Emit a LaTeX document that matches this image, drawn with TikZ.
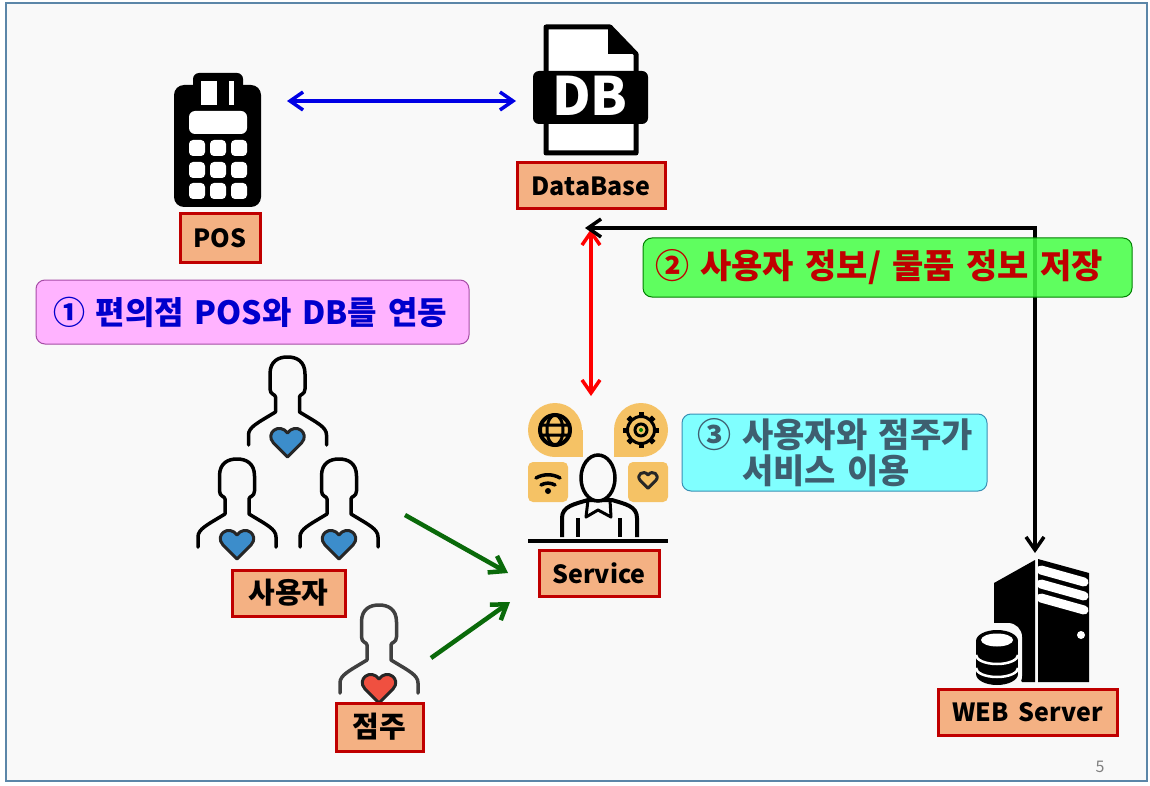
\documentclass[tikz,border=0pt]{standalone}
\usepackage{fontspec}
\setmainfont[WordSpace=1.7]{Noto Sans CJK KR}
\usetikzlibrary{arrows.meta}
\definecolor{slidebg}{HTML}{F9F9F9}
\definecolor{frameblue}{HTML}{5B86A8}
\definecolor{tagred}{HTML}{C00000}
\definecolor{tagfill}{HTML}{F4B183}
\definecolor{blobfill}{HTML}{F5C265}
\definecolor{heartblue}{HTML}{3C8DCB}
\definecolor{heartred}{HTML}{F05040}
\definecolor{darkgreen}{HTML}{0A6A0A}
\definecolor{slatetext}{HTML}{3E5F70}
\definecolor{pinkfill}{HTML}{FFB3FF}
\definecolor{greenfill}{HTML}{45FF45}
\definecolor{cyanfill}{HTML}{80FFFF}
\tikzset{
	tag/.style={draw=tagred, fill=tagfill, line width=3pt, inner sep=0pt, font=\fontsize{25}{25}\selectfont\bfseries},
	hangultag/.style={tag, font=\fontsize{29}{29}\selectfont\bfseries},
	callout/.style={rounded corners=9pt, line width=1pt, inner ysep=0pt, align=left, font=\fontsize{32}{37}\selectfont\bfseries},
	widecallout/.style={callout, font=\fontsize{34}{36}\selectfont\bfseries},
	flow/.style={line width=4.5pt, -{Straight Barb[length=14pt,width=19pt,line width=4.5pt]}},
	both/.style={line width=3.5pt, {Straight Barb[length=13pt,width=18pt,line width=3.5pt]}-{Straight Barb[length=13pt,width=18pt,line width=3.5pt]}},
	person/.pic={
		\draw[line width=3.5pt, line cap=round, line join=round, draw=#1] (-39, 88) -- (-39, 78) .. controls (-39, 70) and (-30, 66) .. (-12, 55) -- (-12, 40) .. controls (-12, 37) and (-17.5, 38) .. (-17.5, 32) -- (-17.5, 17) .. controls (-17.5, 4) and (-9, 0) .. (0, 0) .. controls (9, 0) and (17.5, 4) .. (17.5, 17) -- (17.5, 32) .. controls (17.5, 38) and (12, 37) .. (12, 40) -- (12, 55) .. controls (30, 66) and (39, 70) .. (39, 78) -- (39, 88);
	},
	heart/.pic={
		\draw[line width=3pt, line join=round, draw=black!85, pic actions] (0, 15) -- (-14, 1) .. controls (-23, -9) and (-8, -20) .. (0, -9) .. controls (8, -20) and (23, -9) .. (14, 1) -- cycle;
	}
}
\begin{document}
\begin{tikzpicture}[x=1pt, y=-1pt]
	\useasboundingbox (0, 0) rectangle (1150, 786);
	\fill[white] (0, 0) rectangle (1150, 786);
	\draw[frameblue, fill=slidebg, line width=1.5pt] (6, 3) rectangle (1147, 781);
	% POS terminal
	\fill[rounded corners=6pt] (193, 73) rectangle (243, 100);
	\fill[rounded corners=10pt] (174, 85) rectangle (261, 207);
	\fill[white] (201, 81) rectangle (217, 105);
	\fill[white] (229, 81) rectangle (234, 105);
	\fill[white, rounded corners=6pt] (189, 111) rectangle (247, 134);
	\foreach \kx in {189, 210, 231}
		\foreach \ky in {140, 162, 183}
			\fill[white, rounded corners=4pt] (\kx, \ky) rectangle +(16, 16);
	% DB file
	\draw[line width=5pt, fill=white, line join=round] (546, 27) -- (610, 27) -- (636, 54) -- (636, 153) -- (546, 153) -- cycle;
	\fill (608, 25) -- (638, 54) -- (608, 54) -- cycle;
	\fill[rounded corners=6pt] (533, 71) rectangle (648, 124);
	\node[white, font=\fontsize{53}{53}\selectfont\bfseries] (dbtext) at (590, 96) {DB};
	% people
	\path (287.5, 357) pic {person=black} (237, 459) pic {person=black} (339, 459) pic {person=black} (379, 605) pic {person=black!75};
	\path (287.5, 442) pic[fill=heartblue] {heart} (237, 544) pic[fill=heartblue] {heart} (339, 544) pic[fill=heartblue] {heart} (379, 688) pic[fill=heartred] {heart};
	% service desk
	\fill[blobfill] (555, 430) circle (27);
	\fill[blobfill] (555, 430) rectangle (583, 457);
	\fill[blobfill] (641, 430) circle (27);
	\fill[blobfill] (614, 430) rectangle (641, 457);
	\fill[blobfill, rounded corners=5pt] (528, 462) rectangle (568, 502);
	\fill[blobfill, rounded corners=5pt] (628, 462) rectangle (668, 502);
	\draw[line width=4pt] (555, 430) circle (15);
	\draw[line width=3pt] (539, 425) -- (571, 425) (539, 435) -- (571, 435) (555, 430) ellipse (8 and 15);
	\foreach \ga in {0, 45, ..., 315}
		\draw[line width=5pt] (641, 430) +(\ga:13) -- +(\ga:18);
	\draw[line width=3pt] (641, 430) circle (13.5);
	\draw[line width=3pt] (641, 430) circle (6);
	\fill[green!50!black] (641, 430) circle (2);
	\draw[line width=3.5pt, line cap=round] (536, 478) arc (240:300:24);
	\draw[line width=3.5pt, line cap=round] (541, 485) arc (240:300:14);
	\fill (548, 491) circle (3);
	\path (648, 480) pic[scale=0.55, fill=blobfill] {heart};
	\draw[line width=4pt, fill=slidebg, line join=round] (562, 537) -- (562, 518) .. controls (562, 506) and (575, 504) .. (588, 500) -- (612, 500) .. controls (625, 504) and (637, 506) .. (637, 518) -- (637, 537);
	\draw[line width=3.5pt] (578, 518) -- (578, 537) (620, 518) -- (620, 537);
	\draw[line width=3.5pt, fill=slidebg] (598, 478) ellipse (17 and 23);
	\draw[line width=3pt, line join=round] (588, 500) -- (586, 517) -- (598, 510) -- (611, 517) -- (610, 500);
	\draw[line width=4pt] (528, 541) -- (668, 541);
	% web server
	\fill (994, 583) -- (1035, 560) -- (1035, 682) -- (1022, 682) -- (994, 640) -- cycle;
	\fill (1038, 559) -- (1089, 573) -- (1089, 682) -- (1038, 682) -- cycle;
	\draw[white, line width=9pt, line cap=round] (1041, 570) -- (1084, 582) (1041, 584) -- (1084, 596) (1041, 598) -- (1084, 610);
	\fill[white] (1081, 635) circle (4);
	\fill[slidebg, rounded corners=14pt] (972, 623) rectangle (1022, 690);
	\fill (976, 641) rectangle (1018, 674);
	\fill (997, 641) ellipse (21 and 11);
	\fill (997, 674) ellipse (21 and 11);
	\fill[white] (997, 640) ellipse (16 and 6.5);
	\draw[white, line width=2.5pt] (976, 655) arc (180:0:21 and 9) (976, 668) arc (180:0:21 and 9);
	% captions
	\node[tag, minimum width=80pt, minimum height=48pt] (pos) at (220, 238) {POS};
	\node[tag, minimum width=148pt, minimum height=46pt] (database) at (591, 186) {DataBase};
	\node[tag, minimum width=120pt, minimum height=46pt] (service) at (599, 573) {Service};
	\node[hangultag, minimum width=113pt, minimum height=46pt] (user) at (288.5, 593) {사용자};
	\node[hangultag, minimum width=87pt, minimum height=48pt] (owner) at (379.5, 727) {점주};
	\node[tag, minimum width=179pt, minimum height=46pt] (web) at (1027.5, 712) {WEB Server};
	% arrows
	\coordinate (posend) at (287, 101);
	\coordinate (dbend) at (516, 101);
	\coordinate (junction) at (585, 228);
	\coordinate (redtop) at (591, 229);
	\coordinate (redlow) at (591, 396);
	\coordinate (corner) at (1035, 228);
	\coordinate (serverend) at (1035, 553);
	\coordinate (userstart) at (405, 515);
	\coordinate (userend) at (508, 573);
	\coordinate (ownerstart) at (431, 658);
	\coordinate (ownerend) at (510, 602);
	\draw[both, blue!90!black] (posend) -- (dbend);
	\draw[both, red] (redtop) -- (redlow);
	\draw[both, black] (junction) -- (corner) -- (serverend);
	\draw[flow, darkgreen] (userstart) -- (userend);
	\draw[flow, darkgreen] (ownerstart) -- (ownerend);
	% callouts
	\node[callout, draw=violet!70, fill=pinkfill, text=blue!80!black, minimum width=433pt, minimum height=64pt, inner xsep=17pt, text width=399pt] (step1) at (252.5, 312) {① 편의점 POS와 DB를 연동};
	\node[widecallout, draw=green!50!black, fill=greenfill, fill opacity=.85, text opacity=1, text=tagred, minimum width=489pt, minimum height=59pt, inner xsep=12pt, text width=465pt] (step2) at (887.5, 267.5) {② 사용자 정보/ 물품 정보 저장};
	\node[widecallout, draw=cyan!70!black, fill=cyanfill, text=slatetext, minimum width=305pt, minimum height=77pt, inner xsep=15pt, text width=275pt] (step3) at (834.5, 452.5) {\mbox{③ 사용자와 점주가}\\\hspace*{45pt}서비스 이용};
	\node[black!50, font=\fontsize{16}{16}\selectfont] (pageno) at (1100, 767) {5};
\end{tikzpicture}
\end{document}
